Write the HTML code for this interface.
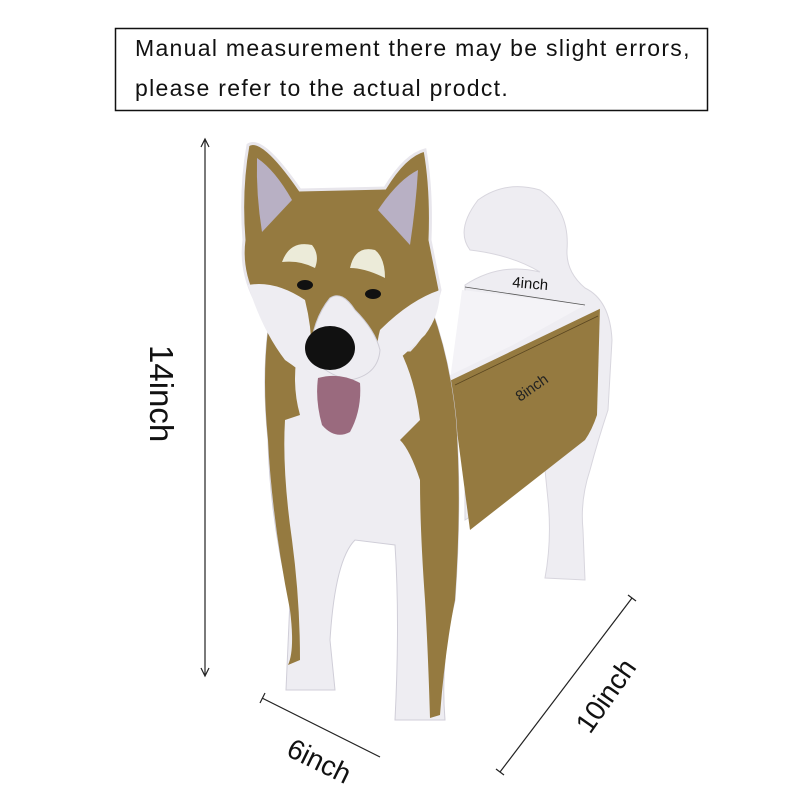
<!DOCTYPE html>
<html><head><style>
body{margin:0;background:#fff;width:800px;height:800px;overflow:hidden;font-family:"Liberation Sans",sans-serif}
</style></head><body>
<svg width="800" height="800" viewBox="0 0 800 800" xmlns="http://www.w3.org/2000/svg">
<rect x="115.5" y="28.5" width="592" height="82" fill="none" stroke="#111" stroke-width="1.5"/>
<text x="135" y="56" font-family="Liberation Sans, sans-serif" font-size="23" letter-spacing="1.3" fill="#111">Manual measurement there may be slight errors,</text>
<text x="135" y="96" font-family="Liberation Sans, sans-serif" font-size="23" letter-spacing="1.3" fill="#111">please refer to the actual prodct.</text>

<g stroke="#222" stroke-width="1.2" fill="none">
<line x1="205" y1="140" x2="205" y2="675"/>
<path d="M201 147 L205 139 L209 147 M201 668 L205 676 L209 668"/>
<line x1="262" y1="698" x2="380" y2="757"/>
<line x1="260" y1="703" x2="265" y2="693"/>
<line x1="500" y1="772" x2="632" y2="598"/>
<line x1="628" y1="595" x2="636" y2="601"/>
<line x1="496" y1="769" x2="504" y2="775"/>
</g>
<text transform="translate(150,345) rotate(90)" font-size="33" fill="#111" font-family="Liberation Sans, sans-serif">14inch</text>
<text transform="translate(285,755) rotate(26)" font-size="28" fill="#111" font-family="Liberation Sans, sans-serif">6inch</text>
<text transform="translate(590,735) rotate(-55)" font-size="28" fill="#111" font-family="Liberation Sans, sans-serif">10inch</text>

<path d="M465 285 Q500 262 540 272 Q512 255 470 250 Q455 230 478 200 Q505 180 540 190 Q570 210 567 250 Q566 272 585 288 Q610 300 612 340 L608 410 Q598 440 590 470 Q580 500 583 530 L585 580 L545 578 Q552 540 548 500 L545 470 L465 520 Z" fill="#eeedf2" stroke="#d8d6de"/>
<path d="M462 290 L585 305 L450 380 Z" fill="#f4f3f7"/>
<line x1="465" y1="287" x2="585" y2="305" stroke="#555" stroke-width="0.8"/>
<text transform="translate(512,287) rotate(5)" font-size="15" fill="#111">4inch</text>
<path d="M450 378 L600 306 L597 415 Q592 430 585 440 L470 530 Z" fill="#957a40"/>
<path d="M450 378 L600 306" stroke="#eeedf2" stroke-width="5"/>
<line x1="455" y1="385" x2="598" y2="316" stroke="#5a4620" stroke-width="0.8"/>
<text transform="translate(520,402) rotate(-35)" font-size="15" fill="#222">8inch</text>

<path d="M268 330 Q262 380 268 440 Q270 520 290 600 L286 690 L335 690 L330 640 Q335 560 355 540 L395 545 Q400 620 395 720 L445 720 Q440 660 455 600 Q462 500 456 420 Q450 360 432 310 Z" fill="#eeedf2" stroke="#d0ced8"/>
<path d="M268 330 Q262 380 268 440 Q272 520 290 610 Q295 650 288 665 L300 660 Q300 600 292 540 Q282 470 285 420 L300 415 Q290 380 300 340 Z" fill="#957a40"/>
<path d="M432 310 Q450 360 456 420 Q462 500 455 600 Q445 650 440 715 L430 718 Q428 650 425 600 Q420 530 420 480 Q410 450 400 440 L420 420 Q415 380 400 350 Z" fill="#957a40"/>

<path d="M248 145 Q262 135 300 190 L385 188 Q405 155 425 150 Q432 190 430 240 L440 290 Q430 330 410 350 L330 350 Q280 330 255 300 Q240 270 244 240 Q240 190 248 145 Z" fill="#957a40" stroke="#e8e6ec" stroke-width="3"/>
<path d="M257 158 Q275 170 292 200 L262 232 Q256 195 257 158 Z" fill="#b8b0c4"/>
<path d="M418 170 Q416 205 410 245 L378 210 Q398 180 418 170 Z" fill="#b8b0c4"/>
<path d="M248 285 Q275 280 305 300 Q315 340 310 380 Q300 370 285 360 Q262 330 248 285 Z" fill="#eeedf2"/>
<path d="M440 290 Q410 300 380 330 Q372 360 385 370 Q405 355 425 335 Q440 315 440 290 Z" fill="#eeedf2"/>
<path d="M282 262 Q290 240 312 245 Q320 255 315 268 Q300 260 282 262 Z" fill="#ecebd9"/>
<path d="M350 268 Q355 245 375 250 Q385 258 385 278 Q365 268 350 268 Z" fill="#ecebd9"/>
<ellipse cx="305" cy="285" rx="8" ry="5" fill="#111"/>
<ellipse cx="373" cy="294" rx="8" ry="5" fill="#111"/>
<path d="M330 298 Q342 290 355 310 Q375 330 380 350 Q378 375 350 380 Q325 375 310 355 Q312 320 330 298 Z" fill="#eeedf2" stroke="#cfcdd6"/>
<ellipse cx="330" cy="348" rx="25" ry="22" fill="#111"/>
<path d="M318 378 Q340 372 360 383 Q362 410 350 432 Q335 440 322 425 Q315 400 318 378 Z" fill="#9a6a7e"/>
</svg>
</body></html>
